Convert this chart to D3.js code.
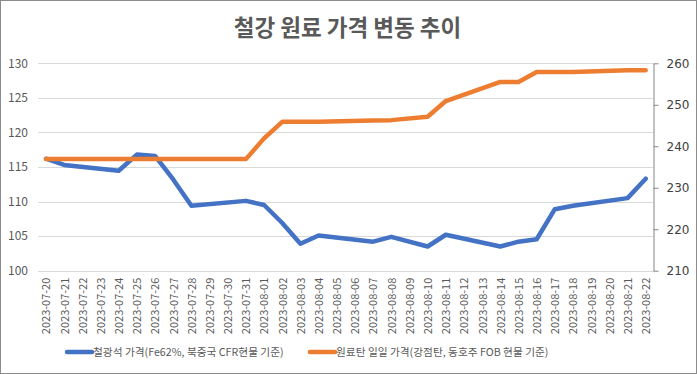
<!DOCTYPE html>
<html><head><meta charset="utf-8">
<script src="https://cdn.jsdelivr.net/npm/d3@7"></script>
<style>
html,body{margin:0;padding:0;background:#fff;}
svg{display:block;}
</style></head>
<body>
<svg id="c" width="697" height="374"></svg>
<script>
const title = "철강 원료 가격 변동 추이";
const dates = ["2023-07-20","2023-07-21","2023-07-22","2023-07-23","2023-07-24","2023-07-25","2023-07-26","2023-07-27","2023-07-28","2023-07-29","2023-07-30","2023-07-31","2023-08-01","2023-08-02","2023-08-03","2023-08-04","2023-08-05","2023-08-06","2023-08-07","2023-08-08","2023-08-09","2023-08-10","2023-08-11","2023-08-12","2023-08-13","2023-08-14","2023-08-15","2023-08-16","2023-08-17","2023-08-18","2023-08-19","2023-08-20","2023-08-21","2023-08-22"];
const ironOre = [116.2,115.3,null,null,114.45,116.8,116.6,113.2,109.4,null,null,110.1,109.5,106.9,103.9,105.1,null,null,104.2,104.9,null,103.5,105.2,null,null,103.5,104.2,104.55,108.9,109.4,null,null,110.5,113.3];
const coal = [236.9,236.9,null,null,236.9,236.9,236.9,236.9,236.9,null,null,236.9,241.9,245.9,245.9,245.9,null,null,246.2,246.3,null,247.1,250.9,null,null,255.5,255.5,257.9,257.9,257.9,null,null,258.3,258.3];
const leftTicks = [100,105,110,115,120,125,130];
const rightTicks = [210,220,230,240,250,260];
const seriesNames = ["철광석 가격(Fe62%, 북중국 CFR현물 기준)","원료탄 일일 가격(강점탄, 동호주 FOB 현물 기준)"];
const colors = ["#4472C4","#ED7D31"];

(function(){
const svg = d3.select("#c");
const W = 697, H = 374;
const font = "'Noto Sans CJK KR','Noto Sans',sans-serif";

svg.append("rect").attr("x",0.5).attr("y",0.5).attr("width",W-1).attr("height",H-1)
  .attr("fill","#fff").attr("stroke","#8c8c8c").attr("stroke-width",1);

const pTop = 63.3, pBottom = 270.7, pLeft = 38, pRight = 653;
const x = d3.scalePoint().domain(dates).range([46, 645.7]);
const yL = d3.scaleLinear().domain([100,130]).range([pBottom, pTop]);
const yR = d3.scaleLinear().domain([210,260]).range([pBottom, pTop]);

svg.append("g").selectAll("line").data(leftTicks).join("line")
  .attr("x1",pLeft).attr("x2",pRight)
  .attr("y1",d=>Math.round(yL(d))+0.5).attr("y2",d=>Math.round(yL(d))+0.5)
  .attr("stroke","#d9d9d9").attr("stroke-width",1);

const gL = svg.append("g").attr("transform",`translate(${pLeft-10},0)`)
  .call(d3.axisLeft(yL).tickValues(leftTicks).tickSize(0).tickPadding(0));
gL.select(".domain").remove();
gL.selectAll("text").attr("font-family",font).attr("font-size",12).attr("fill","#595959");

const gR = svg.append("g").attr("transform",`translate(${pRight+0.5},0)`)
  .call(d3.axisRight(yR).tickValues(rightTicks).tickSize(5).tickPadding(8).tickSizeOuter(0));
gR.select(".domain").attr("stroke","#868686");
gR.selectAll(".tick line").attr("stroke","#868686");
gR.selectAll("text").attr("font-family","'DejaVu Sans',sans-serif").attr("font-size",12).attr("fill","#404040");

const gX = svg.append("g").attr("transform",`translate(0,${pBottom})`)
  .call(d3.axisBottom(x).tickSize(0).tickPadding(0));
gX.select(".domain").remove();
gX.selectAll("text")
  .attr("font-family",font).attr("font-size",11).attr("fill","#595959")
  .attr("transform","rotate(-90)")
  .attr("text-anchor","end").attr("dx","-7").attr("dy","0.35em").attr("y",0).attr("x",0);

const series = [{v:ironOre,y:yL,c:colors[0]},{v:coal,y:yR,c:colors[1]}];
series.forEach(s=>{
  const pts = dates.map((d,i)=>[d,s.v[i]]).filter(p=>p[1]!=null);
  svg.append("path").datum(pts)
    .attr("fill","none").attr("stroke",s.c).attr("stroke-width",4.5)
    .attr("stroke-linejoin","round").attr("stroke-linecap","round")
    .attr("d",d3.line().x(p=>x(p[0])).y(p=>s.y(p[1])));
});

svg.append("text").attr("x",347.5).attr("y",36).attr("text-anchor","middle")
  .attr("font-family",font).attr("font-size",22.5).attr("font-weight","bold")
  .attr("fill","#595959").text(title);

const legX = [67,310];
seriesNames.forEach((n,i)=>{
  svg.append("line").attr("x1",legX[i]).attr("x2",legX[i]+25).attr("y1",352).attr("y2",352)
    .attr("stroke",colors[i]).attr("stroke-width",4.5).attr("stroke-linecap","round");
  svg.append("text").attr("x",legX[i]+26).attr("y",352).attr("dy","0.35em")
    .attr("font-family",font).attr("font-size",10.7).attr("fill","#595959").text(n);
});
})();
</script>
</body></html>
